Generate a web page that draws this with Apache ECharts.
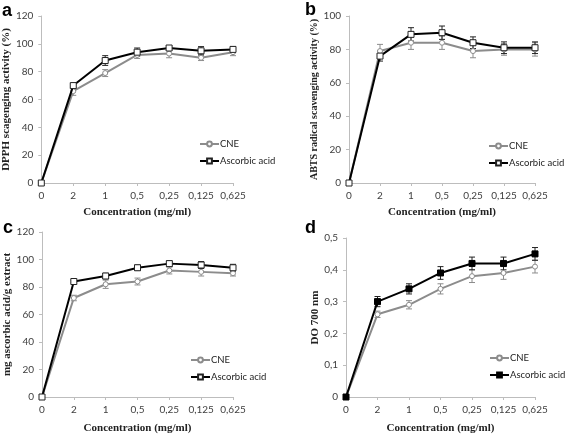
<!DOCTYPE html>
<html><head><meta charset="utf-8">
<script src="https://cdn.jsdelivr.net/npm/echarts@6/dist/echarts.min.js"></script>
<style>html,body{margin:0;padding:0;background:#fff}#c{width:567px;height:435px}</style>
</head><body><div id="c"></div>
<script>
const categories = ['0','2','1','0,5','0,25','0,125','0,625'];
// Panel a: DPPH
const aCNE = [0,66,79,92,93,90,94];
const aCNEErr = [0,3,2.5,2.5,3,2,2.5];
const aAA = [0,70,88,94,97,95,96];
const aAAErr = [0,1.5,3.5,3,1.5,3,2];
// Panel b: ABTS
const bCNE = [0,79,84,84,79,80,80];
const bCNEErr = [0,4,4,4,4,3.5,4];
const bAA = [0,76,89,90,84,81,81];
const bAAErr = [0,3,4,4,3.5,3.5,3.5];
// Panel c
const cCNE = [0,72,82,84,92,91,90];
const cCNEErr = [0,2,3,2.5,2.5,3,2];
const cAA = [0,84,88,94,97,96,94];
const cAAErr = [0,1,2,2,2,2.5,2.5];
// Panel d
const dCNE = [0,0.26,0.29,0.34,0.38,0.39,0.41];
const dCNEErr = [0,0.01,0.013,0.016,0.02,0.02,0.02];
const dAA = [0,0.30,0.34,0.39,0.42,0.42,0.45];
const dAAErr = [0,0.016,0.016,0.02,0.02,0.02,0.02];

const yTitles = ['DPPH scagenging activity (%)','ABTS radical scavenging activity (%)','mg ascorbic acid/g extract','DO 700 nm'];
const yMax = [120,100,120,0.5];
const yInt = [20,20,20,0.1];
const letters = ['a','b','c','d'];
const xTitle = 'Concentration (mg/ml)';

const grids = [
  {left:41, top:16, width:192, height:167},
  {left:349, top:16, width:186, height:167},
  {left:42, top:232, width:191, height:166},
  {left:346, top:238, width:189, height:160}
];
const panels = [
  [aCNE,aCNEErr,aAA,aAAErr],
  [bCNE,bCNEErr,bAA,bAAErr],
  [cCNE,cCNEErr,cAA,cAAErr],
  [dCNE,dCNEErr,dAA,dAAErr]
];
const legendPos = [
  {left:199, top:139},
  {left:488, top:141},
  {left:190, top:355},
  {left:489, top:353}
];
const yNameGap = [24, 25, 26, 22];
const yNameSize = [11, 10, 11, 11];
const xNameGap = [24, 24, 26, 26];
const letterPos = [[2,2],[305,1],[3,219],[305,219]];
const labelFont = 'Lato';
const serif = 'Liberation Serif';
const gray = '#8c8c8c';

function errSeries(i, vals, errs, color) {
  return {
    type:'custom', xAxisIndex:i, yAxisIndex:i, silent:true, z:1,
    data: vals.map((v,k)=>[k, v, errs[k]]),
    renderItem: function(params, api){
      const x = api.value(0), v = api.value(1), e = api.value(2);
      if (!e) return null;
      const top = api.coord([x, v+e]);
      const bot = api.coord([x, v-e]);
      const w = 3;
      const st = {stroke:color, lineWidth:1};
      return {type:'group', children:[
        {type:'line', shape:{x1:top[0],y1:top[1],x2:bot[0],y2:bot[1]}, style:st},
        {type:'line', shape:{x1:top[0]-w,y1:top[1],x2:top[0]+w,y2:top[1]}, style:st},
        {type:'line', shape:{x1:bot[0]-w,y1:bot[1],x2:bot[0]+w,y2:bot[1]}, style:st}
      ]};
    }
  };
}

const option = {
  animation:false,
  backgroundColor:'#fff',
  grid: grids,
  xAxis: grids.map((g,i)=>({
    gridIndex:i, type:'category', data:categories, boundaryGap:false,
    name:xTitle, nameLocation:'middle', nameGap:xNameGap[i],
    nameTextStyle:{fontFamily:serif, fontWeight:'bold', fontSize:11, color:'#222'},
    axisLine:{lineStyle:{color:'#bdbdbd', width:1}},
    axisTick:{show:true, length:3, interval:0, lineStyle:{color:'#bdbdbd'}},
    axisLabel:{interval:0, fontFamily:labelFont, fontSize:10, color:'#404040', margin:8},
    splitLine:{show:false}
  })),
  yAxis: grids.map((g,i)=>({
    gridIndex:i, type:'value', min:0, max:yMax[i], interval:yInt[i],
    name:yTitles[i], nameLocation:'middle', nameGap: yNameGap[i],
    nameTextStyle:{fontFamily:serif, fontWeight:'bold', fontSize:yNameSize[i], color:'#222'},
    axisLine:{show:true, lineStyle:{color:'#bdbdbd', width:1}},
    axisTick:{show:true, length:3, lineStyle:{color:'#bdbdbd'}},
    axisLabel:{fontFamily:labelFont, fontSize:10, color:'#404040', margin:8,
      formatter: v => String(Math.round(v*1000)/1000).replace('.',',')},
    splitLine:{show:false}
  })),
  legend: panels.map((p,i)=>({
    orient:'vertical', left:legendPos[i].left, top:legendPos[i].top,
    data: i===3 ? ['CNE (d)','Ascorbic acid (d)'] : ['CNE','Ascorbic acid'],
    formatter: n => n.replace(' (d)',''),
    itemWidth:19, itemHeight:6, itemGap:7, padding:0,
    textStyle:{fontFamily:labelFont, fontSize:9.5, color:'#222', padding:[0,0,0,-4]},
    selectedMode:false
  })),
  graphic: grids.map((g,i)=>({
    type:'text', left: letterPos[i][0], top: letterPos[i][1],
    style:{text:letters[i], font:'bold 18px "Liberation Sans"', fill:'#000'}
  })),
  series: []
};

panels.forEach((p,i)=>{
  const suffix = i===3 ? ' (d)' : '';
  option.series.push(errSeries(i, p[0], p[1], gray));
  option.series.push(errSeries(i, p[2], p[3], '#222'));
  option.series.push({
    name:'CNE'+suffix, type:'line', xAxisIndex:i, yAxisIndex:i, data:p[0], z:2,
    symbol:'circle', symbolSize:5, showAllSymbol:true,
    lineStyle:{color:gray, width:2}, itemStyle:{color:'#fff', borderColor:gray, borderWidth:1}
  });
  option.series.push({
    name:'Ascorbic acid'+suffix, type:'line', xAxisIndex:i, yAxisIndex:i, data:p[2], z:3,
    symbol:'rect', symbolSize:6, showAllSymbol:true,
    lineStyle:{color:'#000', width:2},
    itemStyle: i===3 ? {color:'#000', borderColor:'#000', borderWidth:1} : {color:'#fff', borderColor:'#222', borderWidth:1}
  });
});

const chart = echarts.init(document.getElementById('c'), null, {renderer:'canvas'});
chart.setOption(option);
</script>
</body></html>
